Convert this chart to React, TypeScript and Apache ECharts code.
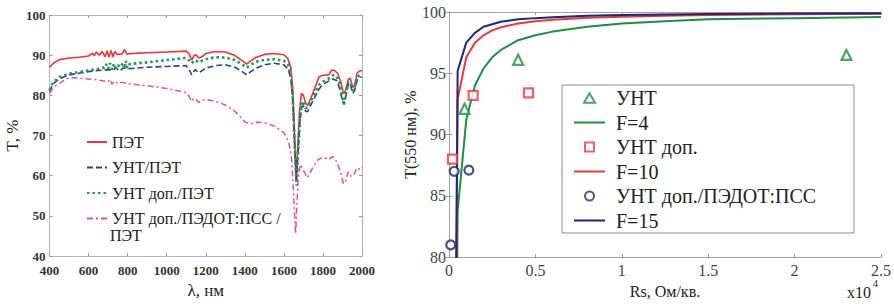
import React, { useEffect, useRef } from "react";
import * as echarts from "echarts";

const FONT = "Liberation Serif";

// ---------- Left chart: T (%) vs wavelength (nm) ----------
const petCurve: [number, number][] = [
  [400, 87.0], [420, 88.0], [450, 88.9], [500, 89.3], [550, 89.5], [600, 89.8],
  [620, 90.5], [630, 89.9], [640, 90.8], [655, 90.0], [670, 90.9], [685, 89.6],
  [695, 91.1], [705, 89.5], [715, 91.2], [725, 89.6], [735, 90.9], [745, 90.2],
  [770, 90.3], [785, 91.4], [795, 90.3], [850, 90.5], [900, 90.6], [1000, 90.8],
  [1100, 91.0], [1115, 90.3], [1128, 88.8], [1140, 89.9], [1150, 90.1], [1165, 89.3],
  [1180, 89.6], [1200, 90.4], [1250, 90.9], [1300, 90.8], [1350, 89.9], [1390, 88.5],
  [1410, 87.8], [1430, 88.6], [1460, 89.5], [1500, 90.2], [1550, 90.4], [1600, 90.1],
  [1620, 89.2], [1635, 87.0], [1645, 82.0], [1655, 70.0], [1662, 58.5], [1670, 66.0],
  [1680, 76.0], [1690, 80.5], [1700, 80.0], [1712, 78.0], [1722, 77.5], [1740, 79.5],
  [1760, 82.0], [1780, 84.6], [1800, 85.0], [1830, 85.1], [1845, 86.3], [1860, 86.2],
  [1875, 85.5], [1890, 83.5], [1905, 80.5], [1915, 81.0], [1930, 84.0], [1940, 84.3],
  [1952, 82.0], [1962, 82.5], [1975, 85.5], [1985, 86.0], [2000, 86.2],
];

const cntPetCurve: [number, number][] = [
  [400, 80.9], [410, 82.0], [420, 82.9], [450, 84.1], [500, 85.1], [550, 85.5],
  [600, 85.9], [650, 86.2], [700, 86.4], [720, 86.2], [740, 86.8], [760, 86.1],
  [780, 86.9], [800, 86.6], [900, 87.0], [1000, 87.2], [1100, 87.4], [1118, 86.2],
  [1128, 85.1], [1145, 86.4], [1165, 85.6], [1185, 86.3], [1200, 86.8], [1250, 87.4],
  [1300, 87.6], [1350, 87.0], [1390, 85.8], [1410, 85.1], [1430, 85.9], [1460, 86.8],
  [1500, 87.6], [1550, 88.0], [1600, 87.6], [1620, 86.6], [1635, 84.5], [1645, 79.0],
  [1655, 68.0], [1665, 59.0], [1673, 66.5], [1683, 74.0], [1692, 77.2], [1700, 77.4],
  [1712, 76.0], [1722, 76.0], [1740, 77.8], [1760, 79.7], [1780, 81.6], [1800, 82.7],
  [1830, 83.6], [1850, 84.1], [1870, 83.7], [1885, 81.8], [1900, 78.5], [1908, 77.8],
  [1918, 80.0], [1930, 82.9], [1940, 82.8], [1952, 80.5], [1962, 81.2], [1975, 83.8],
  [1990, 84.4], [2000, 84.6],
];

const dopedPetCurve: [number, number][] = [
  [400, 81.3], [410, 82.5], [420, 83.3], [450, 84.5], [500, 85.4], [550, 85.8],
  [600, 86.2], [650, 86.6], [680, 86.9], [690, 87.8], [700, 86.6], [710, 88.0],
  [720, 86.4], [730, 87.9], [740, 86.8], [750, 87.5], [765, 87.0], [775, 88.0],
  [785, 86.6], [790, 88.6], [800, 86.8], [810, 87.8], [900, 88.2], [1000, 88.8],
  [1100, 89.3], [1118, 88.6], [1128, 88.0], [1145, 88.8], [1165, 88.2], [1185, 88.7],
  [1200, 89.0], [1250, 89.5], [1300, 89.4], [1350, 88.8], [1390, 87.6], [1410, 86.9],
  [1430, 87.6], [1460, 88.4], [1500, 88.8], [1550, 89.0], [1600, 88.6], [1620, 87.8],
  [1635, 85.5], [1645, 80.0], [1655, 68.0], [1665, 57.5], [1673, 66.0], [1683, 74.5],
  [1692, 78.5], [1700, 78.3], [1712, 76.8], [1722, 77.0], [1740, 78.8], [1760, 80.8],
  [1780, 82.6], [1800, 83.4], [1830, 84.2], [1850, 85.0], [1870, 84.8], [1885, 83.0],
  [1900, 79.5], [1908, 77.8], [1918, 80.5], [1930, 83.3], [1940, 83.4], [1952, 81.2],
  [1962, 81.8], [1975, 84.3], [1990, 85.2], [2000, 85.4],
];

const pedotPetCurve: [number, number][] = [
  [400, 80.5], [420, 82.0], [450, 83.0], [500, 84.4], [550, 84.3], [600, 84.1],
  [650, 83.8], [700, 83.4], [710, 84.0], [720, 82.8], [735, 83.6], [750, 82.9],
  [770, 83.3], [800, 82.9], [900, 82.4], [1000, 81.7], [1100, 80.7], [1115, 79.8],
  [1125, 78.5], [1140, 79.3], [1150, 79.0], [1165, 78.2], [1180, 78.8], [1200, 79.0],
  [1250, 78.5], [1300, 77.6], [1350, 76.0], [1380, 74.5], [1400, 73.4], [1430, 72.9],
  [1460, 73.3], [1500, 73.2], [1550, 72.4], [1600, 70.7], [1625, 68.5], [1640, 64.0],
  [1650, 55.0], [1660, 45.5], [1668, 54.0], [1675, 60.5], [1685, 62.8], [1700, 61.4],
  [1720, 59.5], [1750, 62.2], [1775, 64.0], [1800, 64.6], [1830, 64.0], [1850, 64.8],
  [1870, 63.5], [1890, 61.0], [1905, 58.0], [1915, 58.5], [1930, 61.0], [1945, 59.8],
  [1960, 60.5], [1975, 62.0], [1990, 61.5], [2000, 62.2],
];

const leftNames = ["ПЭТ", "УНТ/ПЭТ", "УНТ доп./ПЭТ", "УНТ доп./ПЭДОТ:ПСС / ПЭТ"];

// ---------- Right chart: T(550 nm) vs sheet resistance ----------
const rsValues = [0, 500, 1000, 1500, 2000, 2500, 3000, 4000, 5000, 6000, 8000, 10000, 12500, 15000, 20000, 25000];
const f4Values = [0, 83.8, 91.2, 94.0, 95.4, 96.3, 96.9, 97.7, 98.1, 98.4, 98.8, 99.06, 99.25, 99.4, 99.5, 99.6];
const f10Values = [0, 92.9, 96.3, 97.5, 98.1, 98.5, 98.75, 99.06, 99.25, 99.37, 99.53, 99.62, 99.7, 99.75, 99.81, 99.85];
const f15Values = [0, 95.2, 97.5, 98.3, 98.8, 99.0, 99.2, 99.4, 99.5, 99.58, 99.69, 99.75, 99.8, 99.83, 99.87, 99.9];

const cntPoints: [number, number][] = [[900, 92.1], [4000, 96.1], [23000, 96.5]];
const dopedCntPoints: [number, number][] = [[200, 88.0], [1400, 93.2], [4600, 93.4]];
const pedotPoints: [number, number][] = [[100, 81.0], [300, 87.0], [1150, 87.1]];

const rightNames = ["УНТ", "F=4", "УНТ доп.", "F=10", "УНТ доп./ПЭДОТ:ПСС", "F=15"];
const rightLineNames = ["F=4", "F=10", "F=15"];

const C_RED = "#e8353a";
const C_BLUE = "#2e3c8e";
const C_GREEN = "#1f9a48";
const C_PINK = "#df4fa3";
const R_GREEN = "#1d8f42";
const R_RED = "#e8383d";
const R_NAVY = "#1f2878";

// legend marker shapes drawn inside a 31x11 box so they keep their proportions
const ICON_TRIANGLE = "path://M0,0M31,11M15.5,0.8L21,10.2L10,10.2Z";
const ICON_SQUARE = "path://M0,0M31,11M11,1H20V10H11Z";
const ICON_CIRCLE = "path://M0,0M31,11M11,5.5A4.5,4.5,0,1,1,20,5.5A4.5,4.5,0,1,1,11,5.5Z";
const rightIcons: Record<string, string> = {
  "УНТ": ICON_TRIANGLE,
  "УНТ доп.": ICON_SQUARE,
  "УНТ доп./ПЭДОТ:ПСС": ICON_CIRCLE,
};

function zip(xs: number[], ys: number[]): [number, number][] {
  return xs.map((x, i) => [x, ys[i]]);
}

export default function App() {
  const ref = useRef<HTMLDivElement>(null);

  useEffect(() => {
    document.body.style.margin = "0";
    if (!ref.current) return;
    const chart = echarts.init(ref.current, undefined, { renderer: "svg" });

    const frameLeft = { show: true, lineStyle: { color: "#b4b4b4", width: 1 } };
    const frameRight = { show: true, lineStyle: { color: "#a0a0a0", width: 1 } };
    const tickIn = { show: true, inside: true, length: 3, lineStyle: { color: "#999" } };

    const leftLabel = { fontFamily: FONT, fontWeight: "bold" as const, fontSize: 13, color: "#333" };
    const rightLabel = { fontFamily: FONT, fontSize: 16, color: "#444" };

    const lineLegendItem = (name: string) => ({ name, itemStyle: { opacity: 0 } });

    const option: any = {
      animation: false,
      backgroundColor: "#fff",
      textStyle: { fontFamily: FONT },
      grid: [
        { left: 49.5, top: 15, width: 312.5, height: 246 },
        { left: 449, top: 12, width: 435, height: 246 },
      ],
      xAxis: [
        {
          gridIndex: 0, type: "value", position: "bottom", min: 400, max: 2000, interval: 200,
          axisLine: frameLeft, axisTick: tickIn, splitLine: { show: false },
          axisLabel: { ...leftLabel, margin: 8, formatter: (v: number) => String(v) },
          name: "λ, нм", nameLocation: "middle", nameGap: 24,
          nameTextStyle: { fontFamily: FONT, fontSize: 17, color: "#222" },
        },
        {
          gridIndex: 0, type: "value", position: "top", min: 400, max: 2000, interval: 200,
          axisLine: frameLeft, axisTick: tickIn, splitLine: { show: false }, axisLabel: { show: false },
        },
        {
          gridIndex: 1, type: "value", position: "bottom", min: 0, max: 25000, interval: 5000,
          axisLine: frameRight, axisTick: tickIn, splitLine: { show: false },
          axisLabel: { ...rightLabel, margin: 5, formatter: (v: number) => String(v / 10000) },
          name: "Rs, Ом/кв.", nameLocation: "middle", nameGap: 21,
          nameTextStyle: { fontFamily: FONT, fontSize: 16, color: "#222" },
        },
        {
          gridIndex: 1, type: "value", position: "top", min: 0, max: 25000, interval: 5000,
          axisLine: frameRight, axisTick: tickIn, splitLine: { show: false }, axisLabel: { show: false },
        },
      ],
      yAxis: [
        {
          gridIndex: 0, type: "value", position: "left", min: 40, max: 100, interval: 10,
          axisLine: frameLeft, axisTick: tickIn, splitLine: { show: false },
          axisLabel: { ...leftLabel, margin: 4 },
          name: "T, %", nameLocation: "middle", nameGap: 29,
          nameTextStyle: { fontFamily: FONT, fontSize: 17, color: "#222" },
        },
        {
          gridIndex: 0, type: "value", position: "right", min: 40, max: 100, interval: 10,
          axisLine: frameLeft, axisTick: tickIn, splitLine: { show: false }, axisLabel: { show: false },
        },
        {
          gridIndex: 1, type: "value", position: "left", min: 80, max: 100, interval: 5,
          axisLine: frameRight, axisTick: tickIn, splitLine: { show: false },
          axisLabel: { ...rightLabel, margin: 3 },
          name: "T(550 нм), %", nameLocation: "middle", nameGap: 31,
          nameTextStyle: { fontFamily: FONT, fontSize: 16, color: "#222" },
        },
        {
          gridIndex: 1, type: "value", position: "right", min: 80, max: 100, interval: 5,
          axisLine: frameRight, axisTick: tickIn, splitLine: { show: false }, axisLabel: { show: false },
        },
      ],
      legend: [
        {
          data: leftNames.map(lineLegendItem),
          orient: "vertical",
          left: 86,
          top: 133,
          itemWidth: 20,
          itemHeight: 10,
          itemGap: 7.5,
          padding: 0,
          formatter: (n: string) => (n === leftNames[3] ? "УНТ доп./ПЭДОТ:ПСС /" : n),
          textStyle: { fontFamily: FONT, fontSize: 16, lineHeight: 18, color: "#222" },
        },
        {
          data: rightNames.map((n) =>
            rightLineNames.includes(n) ? lineLegendItem(n) : { name: n, icon: rightIcons[n] }
          ),
          orient: "vertical",
          left: 573,
          top: 88,
          itemWidth: 31,
          itemHeight: 11,
          itemGap: 4.5,
          padding: 0,
          textStyle: { fontFamily: FONT, fontSize: 20, lineHeight: 20, color: "#222", padding: [0, 0, 0, 6] },
        },
      ],
      graphic: [
        {
          type: "rect", z: 3,
          shape: { x: 562, y: 85, width: 292, height: 148 },
          style: { fill: "#fff", stroke: "#8c8c8c", lineWidth: 1 },
        },
        {
          type: "text", z: 5, x: 110, y: 235,
          style: { text: "ПЭТ", fontFamily: FONT, fontSize: 16, fill: "#222", verticalAlign: "middle" },
        },
        {
          type: "text", z: 5, x: 847, y: 292,
          style: { text: "x10", fontFamily: FONT, fontSize: 16, fill: "#222", verticalAlign: "middle" },
        },
        {
          type: "text", z: 5, x: 873, y: 283,
          style: { text: "4", fontFamily: FONT, fontSize: 10, fill: "#222", verticalAlign: "middle" },
        },
      ],
      series: [
        {
          name: leftNames[0], type: "line", xAxisIndex: 0, yAxisIndex: 0, data: petCurve,
          showSymbol: false, symbol: "none", color: C_RED,
          lineStyle: { color: C_RED, width: 1.6 },
        },
        {
          name: leftNames[1], type: "line", xAxisIndex: 0, yAxisIndex: 0, data: cntPetCurve,
          showSymbol: false, symbol: "none", color: C_BLUE,
          lineStyle: { color: C_BLUE, width: 1.6, type: [6, 3] },
        },
        {
          name: leftNames[2], type: "line", xAxisIndex: 0, yAxisIndex: 0, data: dopedPetCurve,
          showSymbol: false, symbol: "none", color: C_GREEN,
          lineStyle: { color: C_GREEN, width: 2.6, type: [2.5, 3] },
        },
        {
          name: leftNames[3], type: "line", xAxisIndex: 0, yAxisIndex: 0, data: pedotPetCurve,
          showSymbol: false, symbol: "none", color: C_PINK,
          lineStyle: { color: C_PINK, width: 1.5, type: [6, 3, 2, 3] },
        },
        {
          name: "F=4", type: "line", xAxisIndex: 2, yAxisIndex: 2, data: zip(rsValues, f4Values),
          showSymbol: false, symbol: "none", color: R_GREEN, clip: true,
          lineStyle: { color: R_GREEN, width: 2 },
        },
        {
          name: "F=10", type: "line", xAxisIndex: 2, yAxisIndex: 2, data: zip(rsValues, f10Values),
          showSymbol: false, symbol: "none", color: R_RED, clip: true,
          lineStyle: { color: R_RED, width: 2 },
        },
        {
          name: "F=15", type: "line", xAxisIndex: 2, yAxisIndex: 2, data: zip(rsValues, f15Values),
          showSymbol: false, symbol: "none", color: R_NAVY, clip: true,
          lineStyle: { color: R_NAVY, width: 2 },
        },
        {
          name: "УНТ", type: "scatter", xAxisIndex: 2, yAxisIndex: 2, data: cntPoints,
          symbol: "triangle", symbolSize: 10, color: R_GREEN, z: 5,
          itemStyle: { color: "#fff", borderColor: R_GREEN, borderWidth: 2.2 },
        },
        {
          name: "УНТ доп.", type: "scatter", xAxisIndex: 2, yAxisIndex: 2, data: dopedCntPoints,
          symbol: "rect", symbolSize: 9, color: R_RED, z: 5,
          itemStyle: { color: "#fff", borderColor: R_RED, borderWidth: 2.2 },
        },
        {
          name: "УНТ доп./ПЭДОТ:ПСС", type: "scatter", xAxisIndex: 2, yAxisIndex: 2, data: pedotPoints,
          symbol: "circle", symbolSize: 9, color: R_NAVY, z: 5,
          itemStyle: { color: "#fff", borderColor: R_NAVY, borderWidth: 2.2 },
        },
      ],
    };

    chart.setOption(option);
    return () => chart.dispose();
  }, []);

  return <div ref={ref} style={{ width: 894, height: 304 }} />;
}
